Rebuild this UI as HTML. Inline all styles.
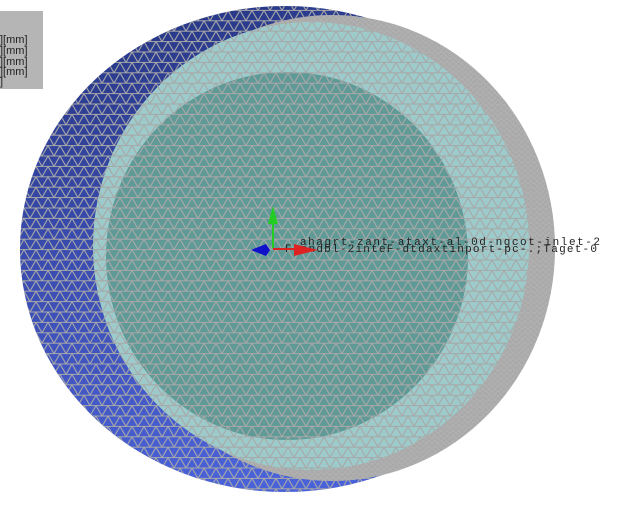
<!DOCTYPE html>
<html><head><meta charset="utf-8"><style>
html,body{margin:0;padding:0;background:#fff;width:630px;height:507px;overflow:hidden}
svg{display:block}
text{font-family:"Liberation Mono",monospace}
</style></head><body>
<svg width="630" height="507" viewBox="0 0 630 507">
<defs>
<linearGradient id="blueg" x1="0" y1="0" x2="0.3" y2="1">
<stop offset="0" stop-color="#24347e"/><stop offset="0.5" stop-color="#3a4cb0"/><stop offset="1" stop-color="#4a62d8"/>
</linearGradient>
<pattern id="mesh" width="12" height="10.4" patternUnits="userSpaceOnUse">
<path d="M0 0H12M0 10.4H12M0 0L6 10.4M6 10.4L12 0M-6 10.4L0 0M12 0L18 10.4" stroke="#a8a8a8" stroke-width="1.1" fill="none"/>
</pattern>
<pattern id="meshf" width="6" height="5.2" patternUnits="userSpaceOnUse">
<path d="M0 0H6M0 0L3 5.2L6 0" stroke="#b4b4b4" stroke-width="0.7" fill="none"/>
</pattern>
</defs>
<g>
<ellipse cx="285" cy="249" rx="265" ry="243" fill="url(#blueg)"/>
<ellipse cx="285" cy="249" rx="265" ry="243" fill="url(#mesh)"/>
</g>
<g>
<ellipse cx="332" cy="248" rx="223" ry="233" fill="#a9a9a9"/>
<ellipse cx="332" cy="248" rx="223" ry="233" fill="url(#meshf)"/>
</g>
<g>
<ellipse cx="311" cy="246" rx="218" ry="224" fill="#9dcaca"/>
<ellipse cx="311" cy="246" rx="218" ry="224" fill="url(#mesh)"/>
</g>
<g>
<ellipse cx="287" cy="256" rx="181" ry="184" fill="#5f9a97"/>
<ellipse cx="287" cy="256" rx="181" ry="184" fill="url(#mesh)"/>
</g>
<g fill="#222" font-size="11">
<text x="300" y="245" textLength="300">ahagrt-zant-ataxt-al-0d-ngcot-inlet-2</text>
<text x="285" y="252" textLength="312">Fsendbl-2inteF-dtdaxtinport-pc-.;Taget-0</text>
</g>
<g>
<line x1="273" y1="248" x2="273" y2="222" stroke="#22cc22" stroke-width="2"/>
<polygon points="273,206 268,224 278,224" fill="#22cc22"/>
<line x1="273" y1="249" x2="295" y2="249" stroke="#dd2222" stroke-width="2"/>
<polygon points="318,250 294,244 294,256" fill="#dd2222"/>
<polygon points="251,250 266,244 270,250 266,256" fill="#1111cc"/>
</g>
<g>
<rect x="0" y="11" width="43" height="78" fill="#b5b5b5"/>
<g font-size="11" fill="#222">
<text x="0" y="43" style="font-family:'Liberation Sans',sans-serif">][mm]</text>
<text x="0" y="54" style="font-family:'Liberation Sans',sans-serif">][mm]</text>
<text x="0" y="65" style="font-family:'Liberation Sans',sans-serif">][mm]</text>
<text x="0" y="75" style="font-family:'Liberation Sans',sans-serif">][mm]</text>
<text x="0" y="85" style="font-family:'Liberation Sans',sans-serif">]</text>
</g>
</g>
</svg>
</body></html>
